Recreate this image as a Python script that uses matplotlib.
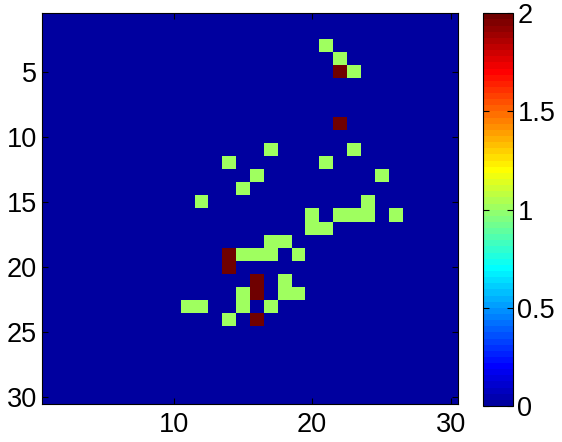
import numpy as np
import matplotlib
matplotlib.use("Agg")
import matplotlib.pyplot as plt
from matplotlib.colors import ListedColormap

plt.rcParams['font.family'] = ['Liberation Sans', 'DejaVu Sans']

# nonzero cells (1-based row, col, value)
rows_1 = [3, 4, 5, 11, 11, 12, 12, 13, 13, 14, 15, 15, 16, 16, 16, 16, 16, 17, 17,
          18, 18, 19, 19, 19, 19, 21, 22, 22, 22, 23, 23, 23, 23, 24]
cols_1 = [21, 22, 23, 17, 23, 14, 21, 16, 25, 15, 12, 24, 20, 22, 23, 24, 26, 20, 21,
          17, 18, 15, 16, 17, 19, 18, 18, 19, 15, 15, 11, 12, 17, 14]
rows_2 = [5, 9, 19, 20, 21, 22, 24]
cols_2 = [22, 22, 14, 14, 16, 16, 16]

N = 30
M = np.zeros((N, N))
for r, c in zip(rows_1, cols_1):
    M[r - 1, c - 1] = 1
for r, c in zip(rows_2, cols_2):
    M[r - 1, c - 1] = 2

# MATLAB-style jet(64)
n = 64
q = n // 4
u = np.concatenate([np.arange(1, q + 1) / q, np.ones(q - 1), np.arange(q, 0, -1) / q])
g0 = int(np.ceil(q / 2)) - (1 if n % 4 == 1 else 0)
g = g0 + np.arange(len(u))
r_ = g + q
b_ = g - q
R = np.zeros(n); G = np.zeros(n); B = np.zeros(n)
for idx, val in zip(r_, u):
    if 0 <= idx - 1 < n: R[idx - 1] = val
for idx, val in zip(g, u):
    if 0 <= idx - 1 < n: G[idx - 1] = val
for idx, val in zip(b_, u):
    if 0 <= idx - 1 < n: B[idx - 1] = val
cmap = ListedColormap(np.column_stack([R, G, B]))

fig = plt.figure(figsize=(5.62, 4.42), dpi=100)
ax = fig.add_axes([0.0746, 0.0864, 0.7395, 0.884])
im = ax.imshow(M, cmap=cmap, vmin=0, vmax=2, aspect='auto', interpolation='nearest',
               extent=(0.5, N + 0.5, N + 0.5, 0.5))
ax.set_xticks([10, 20, 30])
ax.set_yticks([5, 10, 15, 20, 25, 30])
ax.tick_params(direction='in', length=4, width=0.8, labelsize=19.5, top=True, right=True)
ax.tick_params(axis='x', pad=6)
ax.tick_params(axis='y', pad=3.6)
for s in ax.spines.values():
    s.set_linewidth(0.8)

cax = fig.add_axes([0.86, 0.0814, 0.0534, 0.8885])
cb = fig.colorbar(im, cax=cax, ticks=[0, 0.5, 1, 1.5, 2])
cb.ax.set_yticklabels(['0', '0.5', '1', '1.5', '2'])
cb.ax.tick_params(direction='in', length=4, width=0.8, labelsize=19.5, left=True, right=True, pad=3)
cb.outline.set_linewidth(0.8)

fig.savefig('out.png', dpi=100)
